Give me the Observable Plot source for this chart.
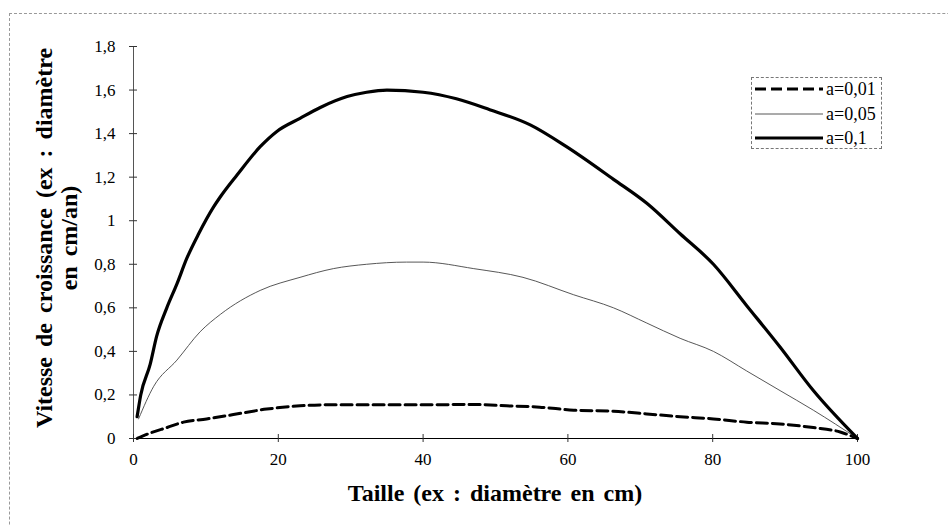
<!DOCTYPE html>
<html>
<head>
<meta charset="utf-8">
<script src="https://cdn.jsdelivr.net/npm/d3@7"></script>
<script src="https://cdn.jsdelivr.net/npm/@observablehq/plot@0.6"></script>
<style>
  html, body { margin: 0; padding: 0; background: #fff; overflow: hidden; }
  #wrap { position: relative; width: 948px; height: 525px; font-family: "Liberation Serif", "Tinos", "Times New Roman", "DejaVu Serif", serif; }
  #frame { position: absolute; left: 9px; top: 13px; width: 1100px; height: 700px; border-left: 1px dashed #999; border-top: 1px dashed #999; }
  #chart { position: absolute; left: 0; top: 0; }
  .title { position: absolute; font-weight: bold; font-size: 24px; color: #000; white-space: nowrap; }
  #xtitle { left: 495px; top: 493px; transform: translate(-50%, -50%); word-spacing: 3px; }
  #ytitle { left: 57px; top: 238px; transform: translate(-50%, -50%) rotate(-90deg); text-align: center; line-height: 25px; word-spacing: 4px; }
  #legend { position: absolute; left: 751px; top: 77px; width: 131px; height: 72px; border: 1px dashed #777; box-sizing: border-box; }
  .row { position: absolute; left: 3px; height: 20px; display: flex; align-items: center; font-size: 18px; }
  .row svg { display: block; margin-right: 3px; }
</style>
</head>
<body>
<div id="wrap">
  <div id="frame"></div>
  <div id="chart"></div>
  <div id="xtitle" class="title">Taille (ex : diamètre en cm)</div>
  <div id="ytitle" class="title">Vitesse de croissance (ex : diamètre<br>en cm/an)</div>
  <div id="legend"></div>
</div>
<script>
// Tick values and labels
const xTicks = [0, 20, 40, 60, 80, 100];
const yTicks = [0, 0.2, 0.4, 0.6, 0.8, 1, 1.2, 1.4, 1.6, 1.8];
const yTickLabels = ["0", "0,2", "0,4", "0,6", "0,8", "1", "1,2", "1,4", "1,6", "1,8"];

// Series names
const seriesNames = ["a=0,01", "a=0,05", "a=0,1"];

// a = 0,01
const x001 = [0.5, 2.3, 4.6, 6.9, 10.1, 13.8, 18.4, 23.0, 27.6, 33.1, 40.0, 47.0, 51.5, 56.1, 60.8, 66.3, 70.9, 75.5, 80.1, 84.7, 89.3, 93.9, 97.6, 100];
const y001 = [0.0, 0.025, 0.05, 0.075, 0.09, 0.11, 0.135, 0.15, 0.155, 0.155, 0.155, 0.156, 0.15, 0.144, 0.13, 0.125, 0.113, 0.10, 0.09, 0.075, 0.067, 0.05, 0.03, 0];

// a = 0,05
const x005 = [0.7, 2.8, 6.0, 9.2, 12.0, 17.5, 23.0, 27.6, 32.2, 37.7, 40.0, 47.0, 53.8, 60.8, 66.3, 70.9, 75.5, 80.1, 84.7, 89.3, 93.9, 100];
const y005 = [0.09, 0.24, 0.36, 0.49, 0.57, 0.68, 0.74, 0.78, 0.80, 0.81, 0.81, 0.78, 0.74, 0.66, 0.60, 0.53, 0.46, 0.40, 0.31, 0.22, 0.13, 0];

// a = 0,1
const x01 = [0.5, 1.0, 2.3, 3.2, 4.6, 6.0, 7.4, 9.0, 11.0, 12.0, 14.3, 17.5, 19.8, 23.0, 25.8, 29.5, 32.2, 35.0, 40.0, 44.6, 49.2, 54.8, 59.8, 66.3, 70.9, 75.5, 80.1, 84.7, 89.3, 93.9, 100];
const y01 = [0.10, 0.20, 0.34, 0.47, 0.60, 0.71, 0.83, 0.94, 1.06, 1.11, 1.21, 1.34, 1.41, 1.47, 1.52, 1.57, 1.59, 1.60, 1.59, 1.56, 1.51, 1.44, 1.34, 1.19, 1.08, 0.94, 0.80, 0.61, 0.42, 0.22, 0];

const toRows = (xs, ys) => xs.map((x, i) => ({x, y: ys[i]}));
const d001 = toRows(x001, y001);
const d005 = toRows(x005, y005);
const d01 = toRows(x01, y01);

const styles = [
  {stroke: "#000", strokeWidth: 3, strokeDasharray: "11,5"},
  {stroke: "#444", strokeWidth: 0.9, strokeDasharray: null},
  {stroke: "#000", strokeWidth: 3.2, strokeDasharray: null}
];

const fontFamily = "'Liberation Serif', 'Tinos', 'Times New Roman', 'DejaVu Serif', serif";

const chart = Plot.plot({
  width: 948,
  height: 525,
  marginLeft: 133,
  marginRight: 91,
  marginTop: 46,
  marginBottom: 87,
  style: {fontFamily, fontSize: "17px", background: "transparent", color: "#000"},
  x: {domain: [0, 100]},
  y: {domain: [0, 1.8]},
  marks: [
    Plot.ruleX([0], {stroke: "#555", strokeWidth: 1}),
    Plot.ruleY([0], {stroke: "#000", strokeWidth: 1}),
    Plot.axisY(yTicks, {tickSize: 8, dx: 4, fill: "none", label: null, stroke: "#333"}),
    Plot.axisY(yTicks, {tickSize: 0, tickPadding: 18, tickFormat: (d, i) => yTickLabels[i], fontSize: 17, label: null}),
    Plot.axisX(xTicks, {tickSize: 8, dy: -4, fill: "none", label: null, stroke: "#333"}),
    Plot.axisX(xTicks, {tickSize: 0, tickPadding: 14, fontSize: 17, label: null}),
    Plot.line(d001, {x: "x", y: "y", curve: "monotone-x", ...styles[0]}),
    Plot.line(d005, {x: "x", y: "y", curve: "monotone-x", ...styles[1]}),
    Plot.line(d01, {x: "x", y: "y", curve: "monotone-x", ...styles[2]})
  ]
});
document.getElementById("chart").appendChild(chart);

// Legend
const legend = document.getElementById("legend");
const rowTops = [1, 26, 50];
seriesNames.forEach((name, i) => {
  const s = styles[i];
  const row = document.createElement("div");
  row.className = "row";
  row.style.top = rowTops[i] + "px";
  row.innerHTML = `<svg width="68" height="20"><line x1="0" y1="10" x2="68" y2="10" stroke="${s.stroke}" stroke-width="${s.strokeWidth}" ${s.strokeDasharray ? `stroke-dasharray="${s.strokeDasharray}"` : ""}/></svg><span>${name}</span>`;
  legend.appendChild(row);
});
</script>
</body>
</html>
